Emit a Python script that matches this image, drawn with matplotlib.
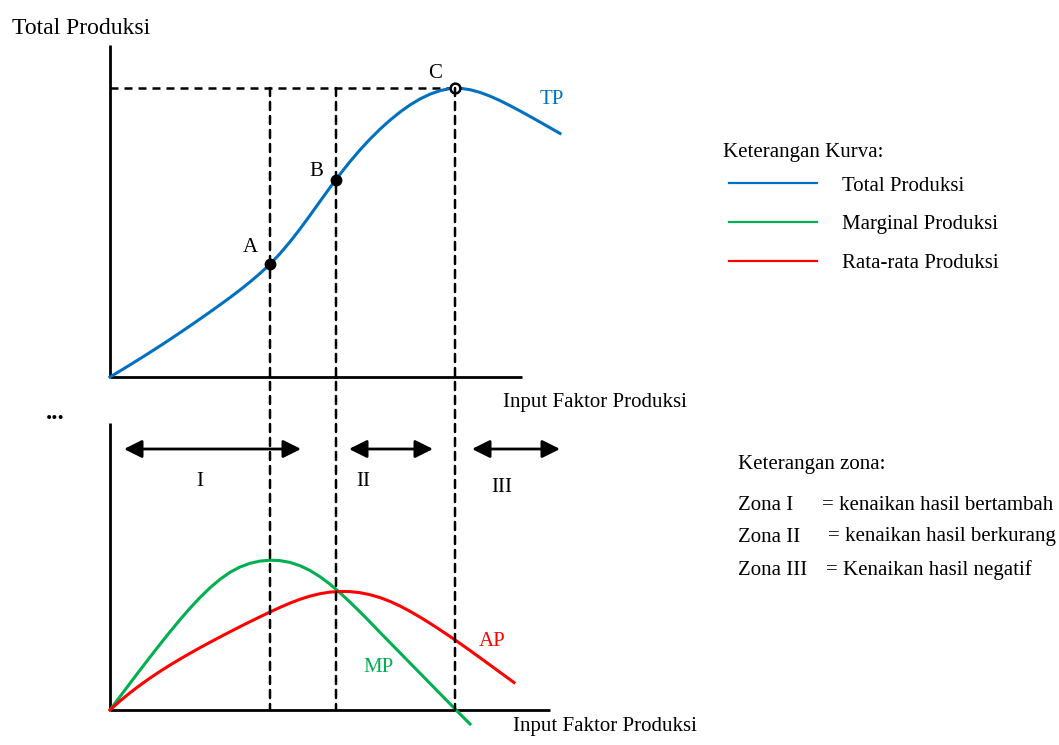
import matplotlib.pyplot as plt
from matplotlib.patches import ConnectionPatch
from matplotlib.lines import Line2D

plt.rcParams['font.family'] = ['Liberation Serif', 'DejaVu Serif']

# data (input and output in arbitrary units)
input_tp = [0, 0.25, 0.5, 0.75, 1, 1.25, 1.5, 1.75, 2, 2.25, 2.5, 2.75, 3, 3.25, 3.5,
            3.75, 4, 4.25, 4.5, 4.75, 5, 5.25, 5.5, 5.65, 5.75, 6, 6.25, 6.5, 6.75, 7,
            7.25, 7.5, 7.75, 8, 8.25, 8.5, 8.625, 8.75, 9, 9.25, 9.5, 9.75, 10, 10.25,
            10.5, 10.75, 11, 11.25]
tp = [0, 2.08, 4.19, 6.34, 8.52, 10.74, 13.01, 15.33, 17.68, 20.07, 22.50, 24.96, 27.49,
      30.12, 32.89, 35.83, 39.02, 42.69, 46.78, 51.21, 55.92, 60.77, 65.55, 68.32, 70.16,
      74.52, 78.58, 82.32, 85.75, 88.86, 91.67, 94.13, 96.21, 97.87, 99.08, 99.81, 100,
      99.93, 99.41, 98.48, 97.19, 95.64, 93.90, 92.07, 90.16, 88.22, 86.25, 84.27]

input_mp = [0, 0.25, 0.5, 0.75, 1, 1.25, 1.5, 1.75, 2, 2.25, 2.5, 2.75, 3, 3.25, 3.5,
            3.75, 4, 4.25, 4.5, 4.75, 5, 5.25, 5.5, 5.65, 5.75, 6, 6.25, 6.5, 6.75, 7,
            7.25, 7.5, 7.75, 8, 8.25, 8.5, 8.65, 8.75, 9]
mp = [0, 8.93, 17.8, 26.6, 35.27, 43.8, 52.13, 60.2, 67.87, 75.0, 81.47, 87.13, 91.8,
      95.33, 97.8, 99.27, 99.87, 99.6, 98.4, 96.2, 93.0, 88.87, 83.87, 80.47, 78.13,
      71.93, 65.4, 58.67, 51.73, 44.93, 38.13, 31.33, 24.53, 17.73, 10.93, 4.13, 0,
      -2.67, -9.33]

input_ap = [0, 0.25, 0.5, 0.75, 1, 1.25, 1.5, 1.75, 2, 2.25, 2.5, 2.75, 3, 3.25, 3.5,
            3.75, 4, 4.25, 4.5, 4.75, 5, 5.25, 5.5, 5.75, 6, 6.25, 6.5, 6.75, 7, 7.25,
            7.5, 7.75, 8, 8.25, 8.5, 8.75, 9, 9.25, 9.5, 9.75, 10, 10.1]
ap = [0, 6.0, 11.47, 16.53, 21.27, 25.73, 29.93, 33.93, 37.8, 41.53, 45.13, 48.67, 52.13,
      55.53, 58.87, 62.13, 65.33, 68.4, 71.27, 73.8, 75.93, 77.53, 78.6, 79.07, 78.93,
      78.2, 76.87, 74.93, 72.4, 69.33, 65.8, 61.93, 57.8, 53.47, 49.0, 44.4, 39.67,
      34.87, 30.0, 25.13, 20.27, 18.33]

point_names = ['A', 'B', 'C']
point_input = [4.0, 5.65, 8.625]
point_tp = [39.02, 68.32, 100]

zones = ['I', 'II', 'III']
zone_desc = ['= kenaikan hasil bertambah', '= kenaikan hasil berkurang',
             '= Kenaikan hasil negatif']
curve_labels = ['Total Produksi', 'Marginal Produksi', 'Rata-rata Produksi']

blue = '#0070C0'
green = '#00B050'
red = '#FF0000'

W, H = 1059, 745
fig = plt.figure(figsize=(W / 100, H / 100), dpi=100)


def px_axes(left, top, width, height):
    return fig.add_axes([left / W, 1 - (top + height) / H, width / W, height / H])


# overlay in pixel units for texts and zone arrows
ax0 = fig.add_axes([0, 0, 1, 1])
ax0.set_xlim(0, W)
ax0.set_ylim(H, 0)
ax0.axis('off')

# top: total product, bottom: marginal / average product
ax1 = px_axes(110, 30.2, 480, 346.8)
ax1.set_xlim(0, 12)
ax1.set_ylim(0, 120)
ax2 = px_axes(110, 417.5, 480, 322.5)
ax2.set_xlim(0, 12)
ax2.set_ylim(-20, 195)

for ax in (ax1, ax2):
    ax.patch.set_visible(False)
    ax.spines[['top', 'right']].set_visible(False)
    for s in ('left', 'bottom'):
        ax.spines[s].set_linewidth(2)
        ax.spines[s].set_capstyle('butt')
    ax.set_xticks([])
    ax.set_yticks([])
ax1.spines['left'].set_bounds(0, 114.9)
ax1.spines['bottom'].set_bounds(0, 10.3)
ax2.spines['left'].set_bounds(0, 191.3)
ax2.spines['bottom'].set_position(('data', 0))
ax2.spines['bottom'].set_bounds(0, 11.0)

dash = (0, (3.2, 2.4))

# curves
ax1.plot(input_tp, tp, color=blue, lw=2.2, clip_on=False, zorder=3)
ax2.plot(input_mp, mp, color=green, lw=2.2, clip_on=False, zorder=3)
ax2.plot(input_ap, ap, color=red, lw=2.2, clip_on=False, zorder=3)

# guide lines
ax1.plot([0, point_input[2]], [point_tp[2], point_tp[2]], color='k', lw=1.8, ls=dash, zorder=2)
for x in point_input:
    con = ConnectionPatch(xyA=(x, point_tp[2]), coordsA=ax1.transData,
                          xyB=(x, 0), coordsB=ax2.transData,
                          color='k', lw=1.8, ls=dash, zorder=2)
    fig.add_artist(con)

# points A, B, C
ax1.plot(point_input[:2], point_tp[:2], 'o', color='k', ms=7.5, zorder=5)
ax1.plot(point_input[2], point_tp[2], 'o', mfc='white', mec='k', mew=1.8, ms=7, zorder=5)

# labels
fs = 15
ax0.text(12, 28, 'Total Produksi', fontsize=17, va='center', ha='left')
for name, pos in zip(point_names, [(250, 248), (316, 172), (435, 73)]):
    ax0.text(pos[0], pos[1], name, fontsize=fs, ha='center', va='center')
ax0.text(552, 100, 'TP', fontsize=fs, color=blue, ha='center', va='center')
ax0.text(378, 667, 'MP', fontsize=fs, color=green, ha='center', va='center')
ax0.text(492, 642, 'AP', fontsize=fs, color=red, ha='center', va='center')
ax0.text(503, 403, 'Input Faktor Produksi', fontsize=fs, ha='left', va='center')
ax0.text(513, 727, 'Input Faktor Produksi', fontsize=fs, ha='left', va='center')
ax0.text(55, 419, '...', fontsize=18, fontweight='bold', ha='center', va='baseline')

# zone arrows
for (x0, x1), name, lpos in zip([(124, 301), (349, 433), (472, 560)], zones,
                                [(200, 482), (363, 482), (502, 487)]):
    ax0.annotate('', xy=(x0, 449), xytext=(x1, 449),
                 arrowprops=dict(arrowstyle='<|-|>,head_length=0.4,head_width=0.2',
                                 color='k', lw=2, mutation_scale=27,
                                 shrinkA=0, shrinkB=0))
    ax0.text(lpos[0], lpos[1], name, fontsize=fs, ha='center', va='center')

# zone description
ax0.text(738, 469, 'Keterangan zona:', fontsize=fs, ha='left', va='baseline')
for i, (name, desc) in enumerate(zip(zones, zone_desc)):
    y = [510, 541.5, 575][i]
    ax0.text(738, y, 'Zona ' + name, fontsize=fs, ha='left', va='baseline')
    ax0.text([822, 828, 826][i], y, desc, fontsize=fs, ha='left', va='baseline')

# curve legend
ax0.text(723, 153, 'Keterangan Kurva:', fontsize=fs, ha='left', va='center')
handles = [Line2D([], [], color=c, lw=1.6) for c in (blue, green, red)]
fig.legend(handles, curve_labels, loc='upper left',
           bbox_to_anchor=(729 / W, 1 - 176 / H), frameon=False, fontsize=fs,
           handlelength=4.2, handletextpad=1.2, labelspacing=0.92,
           borderpad=0, borderaxespad=0)

plt.savefig('out.png', dpi=100)
